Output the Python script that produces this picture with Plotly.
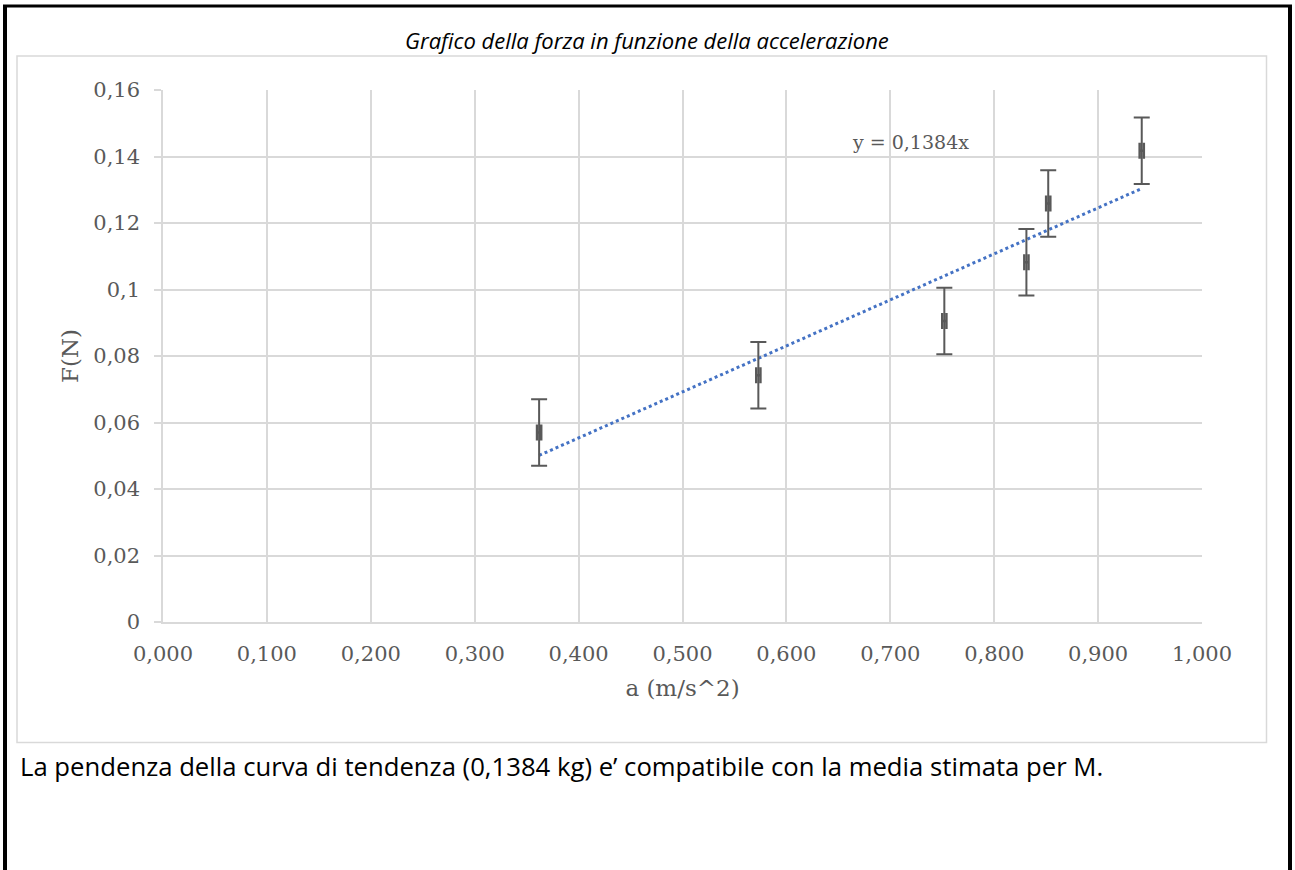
import plotly.graph_objects as go

# Data
accel = [0.362, 0.573, 0.752, 0.831, 0.852, 0.942]
force = [0.057, 0.0742, 0.0905, 0.1082, 0.1259, 0.1417]
force_err = [0.01, 0.01, 0.01, 0.01, 0.01, 0.01]
accel_err = [0.002, 0.002, 0.002, 0.002, 0.002, 0.002]
slope = 0.1384

x_tickvals = [0.0, 0.1, 0.2, 0.3, 0.4, 0.5, 0.6, 0.7, 0.8, 0.9, 1.0]
x_ticktext = ["0,000", "0,100", "0,200", "0,300", "0,400", "0,500",
              "0,600", "0,700", "0,800", "0,900", "1,000"]
y_tickvals = [0, 0.02, 0.04, 0.06, 0.08, 0.10, 0.12, 0.14, 0.16]
y_ticktext = ["0", "0,02", "0,04", "0,06", "0,08", "0,1", "0,12", "0,14", "0,16"]

title_text = "Grafico della forza in funzione della accelerazione"
caption_text = "La pendenza della curva di tendenza (0,1384 kg) e’ compatibile con la media stimata per M."
trend_label = "y = 0,1384x"

W, H = 1295, 870
L, R, T, B = 163, 93, 90, 248
PW, PH = W - L - R, H - T - B


def px(xp):
    return (xp - L) / PW


def py(yp):
    return (H - B - yp) / PH


serif = "DejaVu Serif"
gray_txt = "#595959"
grid = "#d9d9d9"

fig = go.Figure()

# trendline
tx = [min(accel), max(accel)]
ty = [slope * v for v in tx]
fig.add_trace(go.Scatter(
    x=tx, y=ty, mode="lines",
    line=dict(color="#4472C4", width=3, dash="dot"),
    hoverinfo="skip", showlegend=False))

# data with error bars
fig.add_trace(go.Scatter(
    x=accel, y=force, mode="markers",
    marker=dict(size=2, color="rgba(0,0,0,0)"),
    error_y=dict(type="data", array=force_err, visible=True,
                 color="#595959", thickness=2, width=8),
    error_x=dict(type="data", array=accel_err, visible=True,
                 color="#595959", thickness=2.5, width=8),
    showlegend=False))

shapes = [
    # chart area gray box
    dict(type="rect", xref="paper", yref="paper",
         x0=px(17), x1=px(1266.5), y0=py(742.5), y1=py(56),
         line=dict(color="#d9d9d9", width=1.5), layer="below"),
    # outer black border (left, top, right)
    dict(type="line", xref="paper", yref="paper",
         x0=px(5), x1=px(5), y0=py(872), y1=py(5),
         line=dict(color="black", width=4)),
    dict(type="line", xref="paper", yref="paper",
         x0=px(3), x1=px(1292), y0=py(6), y1=py(6),
         line=dict(color="black", width=3)),
    dict(type="line", xref="paper", yref="paper",
         x0=px(1290), x1=px(1290), y0=py(872), y1=py(5),
         line=dict(color="black", width=4)),
]

annotations = [
    dict(text=title_text, xref="paper", yref="paper",
         x=px(647), y=py(40), xanchor="center", yanchor="middle",
         showarrow=False,
         font=dict(family="Open Sans", size=22, color="#000000", style="italic")),
    dict(text=caption_text, xref="paper", yref="paper",
         x=px(18), y=py(766), xanchor="left", yanchor="middle",
         showarrow=False,
         font=dict(family="Open Sans", size=25.7, color="#000000")),
    dict(text=trend_label, xref="x", yref="y",
         x=0.719, y=0.1443, xanchor="center", yanchor="middle",
         showarrow=False,
         font=dict(family=serif, size=19, color=gray_txt)),
]

fig.update_layout(
    width=W, height=H,
    margin=dict(l=L, r=R, t=T, b=B, pad=0),
    paper_bgcolor="white", plot_bgcolor="white",
    shapes=shapes, annotations=annotations,
    xaxis=dict(
        range=[0, 1], tickvals=x_tickvals, ticktext=x_ticktext,
        showgrid=True, gridcolor=grid, gridwidth=1.5,
        zeroline=False, showline=True, linecolor=grid, linewidth=1.5,
        mirror=False, ticks="", ticklabelstandoff=12,
        tickfont=dict(family=serif, size=21, color=gray_txt),
        title=dict(text="a (m/s^2)", standoff=15,
                   font=dict(family=serif, size=23, color=gray_txt)),
    ),
    yaxis=dict(
        range=[0, 0.16], tickvals=y_tickvals, ticktext=y_ticktext,
        showgrid=True, gridcolor=grid, gridwidth=1.5,
        zeroline=False, showline=True, linecolor=grid, linewidth=1.5,
        ticks="outside", ticklen=7, tickcolor=grid, tickwidth=1.5,
        tickfont=dict(family=serif, size=21, color=gray_txt),
        ticklabelstandoff=10,
        title=dict(text="F(N)", standoff=8,
                   font=dict(family=serif, size=23, color=gray_txt)),
    ),
)

fig.write_html(
    "out.html",
    config={"displayModeBar": False},
    post_script="document.body.style.margin='0px';"
                "document.body.style.padding='0px';"
                "document.body.style.overflow='hidden';",
)
